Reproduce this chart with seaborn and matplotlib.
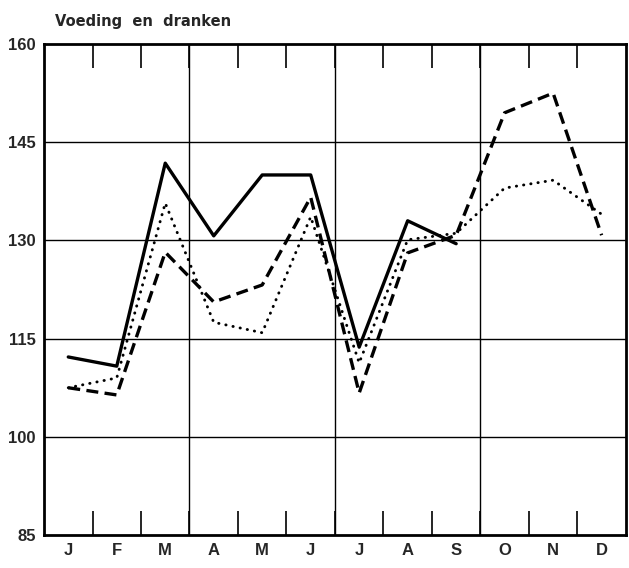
import matplotlib
matplotlib.use("Agg")
import numpy as np
import pandas as pd
import seaborn as sns
import matplotlib.pyplot as plt

months = ["J", "F", "M", "A", "M", "J", "J", "A", "S", "O", "N", "D"]
y_ticks = [85, 100, 115, 130, 145, 160]

# three series (None = no value)
solid_vals = [112.2, 110.8, 141.8, 130.7, 140.0, 140.0, 113.7, 133.0, 129.5, None, None, None]
dashed_vals = [107.5, 106.4, 128.2, 120.6, 123.2, 136.6, 106.7, 128.1, 130.8, 149.5, 152.5, 130.8]
dotted_vals = [107.5, 109.0, 135.7, 117.5, 115.9, 133.6, 111.3, 130.1, 131.1, 138.0, 139.2, 134.0]

sns.set_style("white")
plt.rcParams['font.family'] = ['Liberation Sans Narrow', 'Liberation Sans', 'DejaVu Sans']

fig = plt.figure(figsize=(6.29, 5.68), dpi=100)
ax = fig.add_axes([0.07, 0.058, 0.925, 0.8645])

x = np.arange(len(months))
df = pd.DataFrame({"x": x,
                   "solid": pd.array(solid_vals, dtype="Float64"),
                   "dashed": pd.array(dashed_vals, dtype="Float64"),
                   "dotted": pd.array(dotted_vals, dtype="Float64")}).astype(float)

sns.lineplot(data=df, x="x", y="solid", ax=ax, color="black", lw=2.4)
sns.lineplot(data=df, x="x", y="dashed", ax=ax, color="black", lw=2.4,
             linestyle=(0, (3.6, 1.9)))
sns.lineplot(data=df, x="x", y="dotted", ax=ax, color="black", lw=2.1,
             linestyle=(0, (0.1, 2.4)), dash_capstyle="round")

ax.set_xlim(-0.5, 11.5)
ax.set_ylim(85, 160)

# grid
for v in y_ticks[1:-1]:
    ax.axhline(v, color="black", lw=1.0, zorder=0)
for b in [2.5, 5.5, 8.5]:
    ax.axvline(b, color="black", lw=1.0, zorder=0)

ax.set_xticks(x)
ax.set_xticklabels(months, fontsize=12, fontweight="bold")
ax.set_yticks(y_ticks)
ax.set_yticklabels([str(v) for v in y_ticks], fontsize=12, fontweight="bold")
ax.tick_params(axis="both", which="major", length=0, pad=6)
ax.set_xticks(np.arange(0.5, 11, 1), minor=True)
ax.tick_params(axis="x", which="minor", direction="in", length=17, width=1.2,
               top=True, bottom=True, color="black")

for s in ax.spines.values():
    s.set_visible(True)
    s.set_color("black")
    s.set_linewidth(2.0)

ax.set_xlabel("")
ax.set_ylabel("")
fig.text(0.087, 0.962, "Voeding  en  dranken", fontsize=10.5, fontweight="bold",
         family=['DejaVu Sans'], va="center")

plt.savefig("out.png", dpi=100)
